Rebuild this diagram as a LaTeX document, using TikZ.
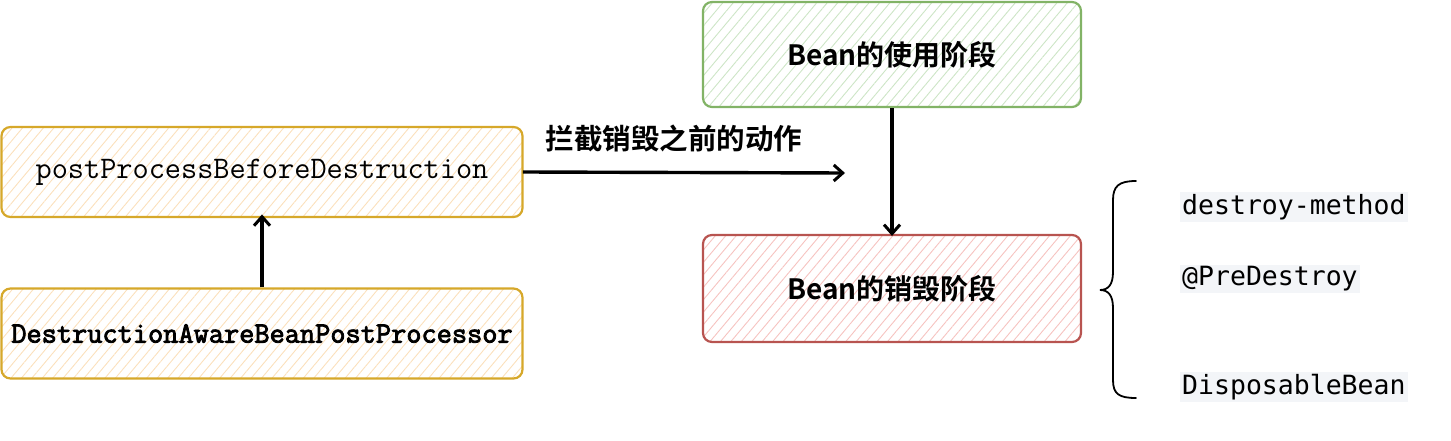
\documentclass[tikz,border=0pt]{standalone}
\usepackage{fontspec}
\usetikzlibrary{patterns.meta,arrows.meta}
\newfontfamily\cjk{Noto Sans CJK SC}[BoldFont={Noto Sans CJK SC Bold}]
\newfontfamily\dmono{DejaVu Sans Mono}
\newfontfamily\lmtb{Latin Modern Mono}[FakeBold=2.8]
\definecolor{ylw}{HTML}{D6A82A}
\definecolor{ylwfill}{HTML}{FBE0BC}
\definecolor{grn}{HTML}{82B366}
\definecolor{grnfill}{HTML}{CDE5C6}
\definecolor{rd}{HTML}{B85450}
\definecolor{rdfill}{HTML}{F6C3C0}
\definecolor{codebg}{HTML}{F3F5F8}
\tikzset{
  sketchbox/.style={draw=#1, line width=2.2pt, rounded corners=9pt, inner sep=0pt},
  ybox/.style={sketchbox=ylw, pattern={Lines[angle=50,distance=8pt,line width=0.9pt]}, pattern color=ylwfill, minimum width=521pt, minimum height=90pt},
  gbox/.style={sketchbox=grn, pattern={Lines[angle=50,distance=8pt,line width=0.9pt]}, pattern color=grnfill, minimum width=378pt, minimum height=105pt},
  rbox/.style={sketchbox=rd, pattern={Lines[angle=50,distance=8pt,line width=0.9pt]}, pattern color=rdfill, minimum width=378pt, minimum height=107pt},
  conn/.style={line width=3.4pt, -{Straight Barb[length=9pt,width=16pt,line width=3pt]}},
  codetxt/.style={fill=codebg, inner sep=2pt, anchor=west, font=\dmono\fontsize{26.5}{29}\selectfont},
}
\begin{document}
\begin{tikzpicture}[x=1pt,y=-1pt]
\useasboundingbox (0,0) rectangle (1451,441);
\node[ybox] (ppbd) at (262,172) {};
\node[font=\ttfamily\fontsize{31.4}{34}\selectfont] at (ppbd.center) {postProcessBeforeDestruction};
\node[ybox] (dabpp) at (262,333.5) {};
\node[font=\lmtb\fontsize{29.5}{32}\selectfont] at (dabpp.center) {DestructionAwareBeanPostProcessor};
\node[gbox] (use) at (892,54.5) {};
\node[font=\cjk\bfseries\fontsize{28}{32}\selectfont] at (use.center) {Bean的使用阶段};
\node[rbox] (destroy) at (892,288.5) {};
\node[font=\cjk\bfseries\fontsize{28}{32}\selectfont] at (destroy.center) {Bean的销毁阶段};
\coordinate (aend) at (845,173);
\draw[conn] (ppbd.east) -- (aend);
\node[font=\cjk\bfseries\fontsize{28.5}{31}\selectfont] (lbl) at (674,138) {拦截销毁之前的动作};
\draw[conn] (dabpp.north) -- ([yshift=3pt]ppbd.south);
\draw[conn] (use.south) -- ([yshift=-2pt]destroy.north);
\coordinate (btop) at (1136,181);
\coordinate (bbot) at (1136,398);
\coordinate (btip) at (1100,290);
\draw[line width=1.8pt, line cap=round] (btop) .. controls (1119,181) and (1113,186) .. (1113,200) -- (1113,272)
  .. controls (1113,285) and (1108,290) .. (btip) .. controls (1108,290) and (1113,295) .. (1113,308)
  -- (1113,380) .. controls (1113,394) and (1119,398) .. (bbot);
\node[codetxt] (dm) at (1180,207) {destroy-method};
\node[codetxt] (pd) at (1180,279) {@PreDestroy};
\node[codetxt] (db) at (1180,387) {DisposableBean};
\end{tikzpicture}
\end{document}
